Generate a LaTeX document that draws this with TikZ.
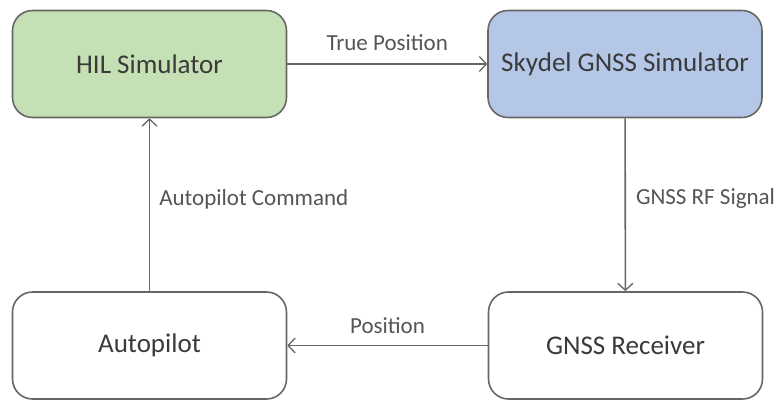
\documentclass[tikz,border=0pt]{standalone}
\usepackage{fontspec}
\setmainfont{Carlito}
\usepackage{xcolor}
\usepackage{tikz}
\usetikzlibrary{arrows.meta,positioning}
\definecolor{greenx}{HTML}{C5E0B4}
\definecolor{bluex}{HTML}{B4C7E7}
\definecolor{linex}{HTML}{666666}
\definecolor{textx}{HTML}{3A3A3A}
\definecolor{labelx}{HTML}{555555}
\tikzset{
  ar/.style={-{Straight Barb[length=7pt,width=15pt,line width=1.3pt]},line width=1.6pt,linex},
  box/.style={draw=linex,line width=1.6pt,rounded corners=20pt,fill=white,align=center,
    minimum width=274pt,minimum height=107pt,inner sep=0pt,text=textx,font=\fontsize{27}{32}\selectfont},
  lbl/.style={text=labelx,font=\fontsize{23}{27}\selectfont,inner sep=0pt}
}
\begin{document}
\begin{tikzpicture}[x=1pt,y=-1pt]
\useasboundingbox (0,0) rectangle (774,400);
\node[box,fill=greenx] (hil) at (149.5,64) {HIL Simulator};
\node[box,fill=bluex] (skydel) at (625,64) {Skydel GNSS Simulator};
\node[box] (autop) at (149.5,345.5) {Autopilot};
\node[box] (rcv) at (625.5,345.5) {GNSS Receiver};
\draw[ar] (hil) -- node[lbl,above=13pt] {True Position} (skydel);
\draw[ar] (skydel) -- node[lbl,right=10pt,yshift=6pt] {GNSS RF Signal} (rcv);
\draw[ar] (rcv) -- node[lbl,above=11pt] {Position} (autop);
\draw[ar] (autop) -- node[lbl,right=9pt,yshift=5pt] {Autopilot Command} (hil);
\end{tikzpicture}
\end{document}
